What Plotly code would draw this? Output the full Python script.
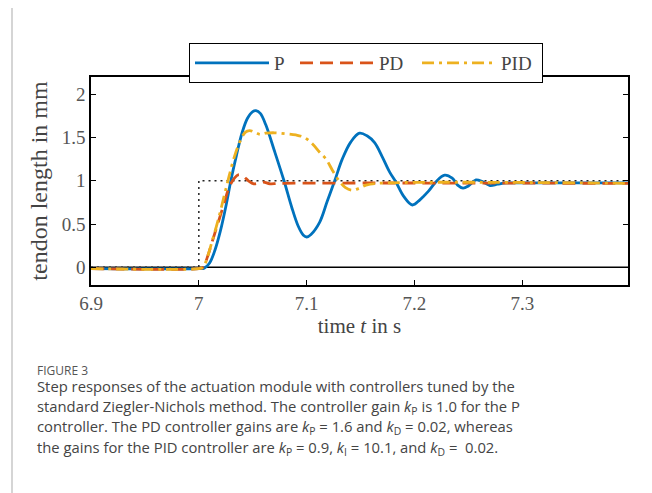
import plotly.graph_objects as go

# ---- data ----
p_t = [6.90, 7.000, 7.005, 7.010, 7.015, 7.020, 7.025, 7.030, 7.035, 7.040, 7.045, 7.050, 7.053,
       7.057, 7.062, 7.070, 7.079, 7.086, 7.092, 7.097, 7.100, 7.104, 7.112, 7.119, 7.126, 7.133,
       7.141, 7.149, 7.156, 7.163, 7.170, 7.177, 7.183, 7.190, 7.198, 7.205, 7.213, 7.220, 7.228,
       7.235, 7.240, 7.245, 7.250, 7.257, 7.263, 7.270, 7.277, 7.285, 7.300, 7.400]
p_y = [-0.015, -0.015, -0.01, 0.05, 0.2, 0.42, 0.70, 1.02, 1.30, 1.55, 1.72, 1.80, 1.81,
       1.78, 1.65, 1.35, 1.00, 0.70, 0.48, 0.37, 0.35, 0.38, 0.52, 0.76, 1.00, 1.25,
       1.45, 1.55, 1.52, 1.44, 1.28, 1.10, 0.98, 0.82, 0.72, 0.78, 0.88, 0.99, 1.065,
       1.03, 0.95, 0.915, 0.94, 1.01, 0.99, 0.945, 0.96, 0.975, 0.975, 0.975]

pd_t = [6.90, 7.000, 7.004, 7.008, 7.013, 7.018, 7.023, 7.028, 7.033, 7.037, 7.041, 7.046,
        7.051, 7.056, 7.060, 7.066, 7.075, 7.400]
pd_y = [-0.015, -0.015, 0.0, 0.12, 0.32, 0.52, 0.72, 0.92, 1.03, 1.07, 1.055, 1.0,
        0.965, 0.975, 0.985, 0.965, 0.97, 0.97]

pid_t = [6.90, 7.000, 7.004, 7.008, 7.013, 7.018, 7.023, 7.028, 7.033, 7.038, 7.043, 7.047,
         7.052, 7.057, 7.062, 7.070, 7.080, 7.090, 7.098, 7.105, 7.112, 7.118, 7.124, 7.130,
         7.136, 7.142, 7.148, 7.155, 7.165, 7.400]
pid_y = [-0.015, -0.015, 0.0, 0.12, 0.33, 0.55, 0.80, 1.05, 1.28, 1.45, 1.56, 1.58,
         1.56, 1.535, 1.55, 1.555, 1.545, 1.53, 1.50, 1.43, 1.33, 1.25, 1.12, 1.00,
         0.92, 0.89, 0.91, 0.95, 0.97, 0.97]

ref_t = [6.90, 7.00, 7.00, 7.40]
ref_y = [0.0, 0.0, 1.0, 1.0]

zero_t = [6.90, 7.40]
zero_y = [0.0, 0.0]

x_ticks = [6.9, 7.0, 7.1, 7.2, 7.3]
x_tick_labels = ["6.9", "7", "7.1", "7.2", "7.3"]
y_ticks = [0, 0.5, 1, 1.5, 2]
y_tick_labels = ["0", "0.5", "1", "1.5", "2"]

caption_title = "FIGURE 3"
caption_lines = [
    "Step responses of the actuation module with controllers tuned by the",
    "standard Ziegler-Nichols method. The controller gain <i>k</i><sub>P</sub> is 1.0 for the P",
    "controller. The PD controller gains are <i>k</i><sub>P</sub> = 1.6 and <i>k</i><sub>D</sub> = 0.02, whereas",
    "the gains for the PID controller are <i>k</i><sub>P</sub> = 0.9, <i>k</i><sub>I</sub> = 10.1, and <i>k</i><sub>D</sub> =  0.02.",
]

# ---- layout geometry (page pixels; the page body adds an 8px offset) ----
W, H = 652, 493
OFF = 8
L, R, T, B = 91 - OFF, 628 - OFF, 77 - OFF, 285 - OFF
pw, ph = R - L, B - T

def px(x):
    return (x - OFF - L) / pw

def py(y):
    return (B - (y - OFF)) / ph

SERIF = "Liberation Serif, DejaVu Serif, serif"
SANS = "Open Sans, Noto Sans, sans-serif"

fig = go.Figure()
fig.add_trace(go.Scatter(x=zero_t, y=zero_y, mode="lines", line=dict(color="black", width=1.5),
                         showlegend=False, hoverinfo="skip"))
fig.add_trace(go.Scatter(x=ref_t, y=ref_y, mode="lines", line=dict(color="#222", width=1.5, dash="2px,4px"),
                         showlegend=False, hoverinfo="skip"))
fig.add_trace(go.Scatter(x=p_t, y=p_y, mode="lines", name="P", line_shape="spline", legendwidth=16,
                         line=dict(color="#0072BD", width=2.8)))
fig.add_trace(go.Scatter(x=pd_t, y=pd_y, mode="lines", name="PD", line_shape="spline", legendwidth=33,
                         line=dict(color="#D95319", width=2.8, dash="13px,7px")))
fig.add_trace(go.Scatter(x=pid_t, y=pid_y, mode="lines", name="PID", line_shape="spline", legendwidth=36,
                         line=dict(color="#EDB120", width=2.8, dash="12px,5px,3px,5px")))

axis_common = dict(showline=True, linecolor="black", linewidth=1.5, mirror="ticks",
                   ticks="inside", ticklen=5, tickwidth=1.2, tickcolor="black",
                   showgrid=False, zeroline=False, automargin=False,
                   tickfont=dict(family=SERIF, size=19, color="#555"))

fig.update_xaxes(range=[6.9, 7.398], tickvals=x_ticks, ticktext=x_tick_labels,
                 title=dict(text="time <i>t</i> in s", font=dict(family=SERIF, size=21, color="#444"),
                            standoff=0), **axis_common)
fig.update_yaxes(range=[-0.205, 2.2], tickvals=y_ticks, ticktext=y_tick_labels,
                 title=dict(text="tendon length in mm", font=dict(family=SERIF, size=24, color="#444"),
                            standoff=7), **axis_common)

annotations = [dict(xref="paper", yref="paper", x=px(35), y=py(370), xanchor="left", yanchor="middle",
                    text=caption_title, showarrow=False,
                    font=dict(family=SANS, size=12, color="#555"))]
line_y = [386, 407, 427, 448]
for t, yy in zip(caption_lines, line_y):
    annotations.append(dict(xref="paper", yref="paper", x=px(35), y=py(yy), xanchor="left",
                            yanchor="middle", align="left", text=t, showarrow=False,
                            font=dict(family=SANS, size=14.8, color="#444")))

shapes = [dict(type="rect", xref="paper", yref="paper", x0=px(12), y0=py(6), x1=px(900), y1=py(900),
               line=dict(color="#c8c8c8", width=1.5), layer="below")]

fig.update_layout(
    width=W, height=H,
    margin=dict(l=L, r=W - R, t=T, b=H - B, pad=0, autoexpand=False),
    paper_bgcolor="white", plot_bgcolor="white",
    showlegend=True,
    legend=dict(orientation="h", x=px(189), y=py(43), xanchor="left", yanchor="top",
                bordercolor="black", borderwidth=1, bgcolor="white",
                itemwidth=74, font=dict(family=SERIF, size=19, color="#444"),
                tracegroupgap=0),
    annotations=annotations,
    shapes=shapes,
)

fig.write_html("out.html")
